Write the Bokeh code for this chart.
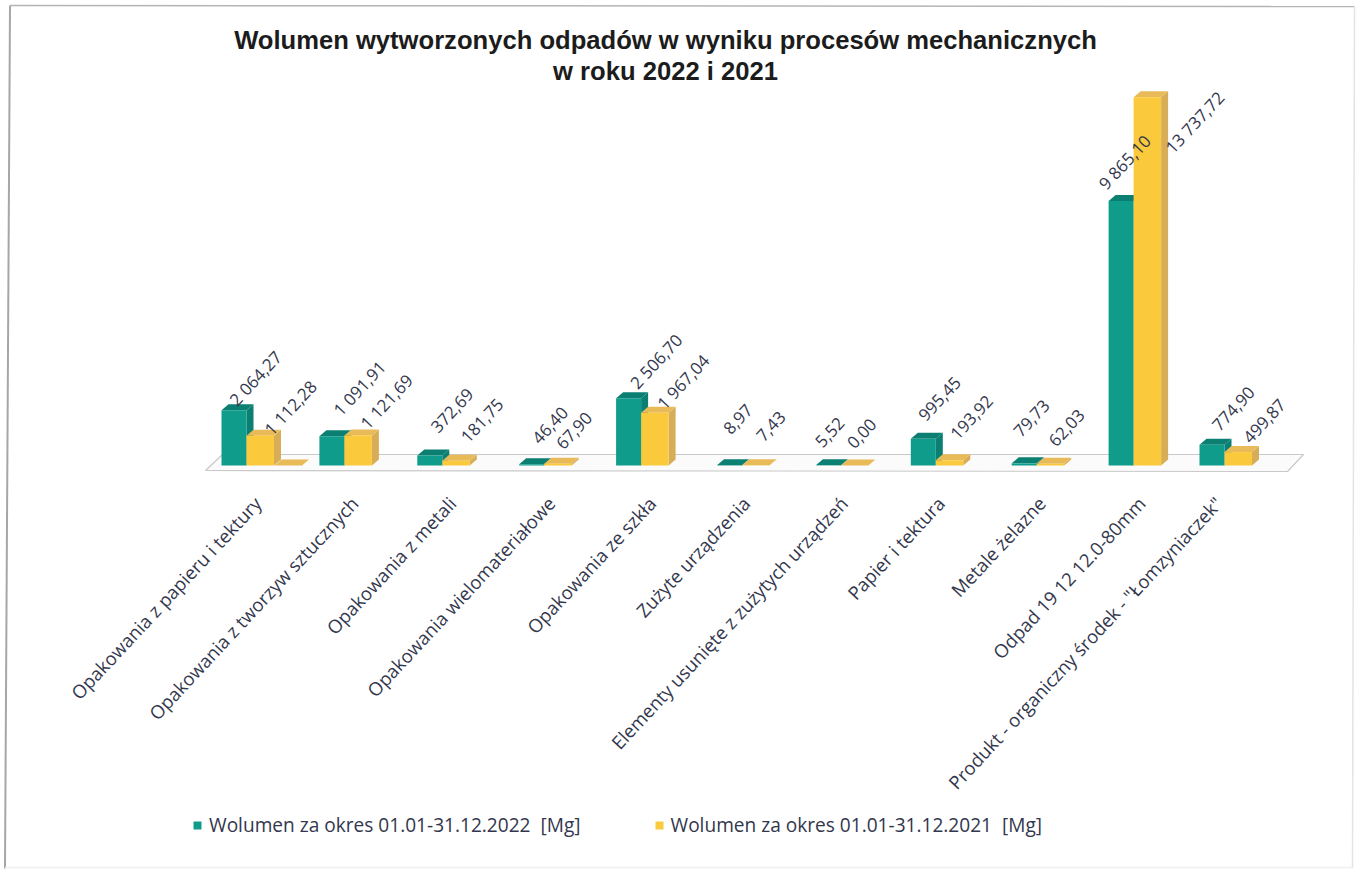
from bokeh.plotting import figure
from bokeh.core.properties import value
from bokeh.models import ColumnDataSource, Range1d, Legend, LegendItem
from bokeh.embed import file_html
from bokeh.resources import INLINE

title_line_1 = "Wolumen wytworzonych odpadów w wyniku procesów mechanicznych"
title_line_2 = "w roku 2022 i 2021"
categories = ["Opakowania z papieru i tektury", "Opakowania z tworzyw sztucznych", "Opakowania z metali",
              "Opakowania wielomateriałowe", "Opakowania ze szkła", "Zużyte urządzenia",
              "Elementy usunięte z zużytych urządzeń", "Papier i tektura", "Metale żelazne",
              "Odpad 19 12 12.0-80mm", "Produkt - organiczny środek - \"Łomzyniaczek\""]
values_2022 = [2064.27, 1091.91, 372.69, 46.40, 2506.70, 8.97, 5.52, 995.45, 79.73, 9865.10, 774.90]
values_2021 = [1112.28, 1121.69, 181.75, 67.90, 1967.04, 7.43, 0.00, 193.92, 62.03, 13737.72, 499.87]
labels_2022 = ["2 064,27", "1 091,91", "372,69", "46,40", "2 506,70", "8,97", "5,52", "995,45", "79,73", "9 865,10", "774,90"]
labels_2021 = ["1 112,28", "1 121,69", "181,75", "67,90", "1 967,04", "7,43", "0,00", "193,92", "62,03", "13 737,72", "499,87"]
extra_positions = [0]
extra_values = [0.0]
legend_2022 = "Wolumen za okres 01.01-31.12.2022  [Mg]"
legend_2021 = "Wolumen za okres 01.01-31.12.2021  [Mg]"

# hand placement of the data labels, in pixels from the bar's group centre / top
dx_2022 = [9, 15, 10, 10, 18, 2, -4, 8, 2, -3, 8]
up_2022 = [32, 48, 45, 39, 37, 46, 33, 40, 45, 39, 36]
dx_2021 = [44, 42, 40, 34, 45, 35, 28, 40, 37, 67, 39]
up_2021 = [28, 34, 40, 33, 31, 39, 32, 43, 36, -25, 31]
cat_dx = [11, 10, 10, 11, 14, 10, 10, 9, 12, 14, -7]
# the scanned groups are not evenly spaced: pixels each group sits off the even grid
group_shift = [0, 0, 0, 4, 3, 6, 7, 4, 7, 6, -1]

W, H = 1356, 870
ORIGIN_X, ORIGIN_Y = 246, 465
PX_X = 97.9
PX_Y = 0.0268
TEAL_W = 25 / PX_X
GOLD_W = 27.5 / PX_X
DEPTH_X = 7 / PX_X
DEPTH_Y = 6 / PX_Y

TEAL, TEAL_TOP, TEAL_SIDE = "#0f9c8b", "#0c7f73", "#0c7f73"
GOLD, GOLD_TOP, GOLD_SIDE = "#fbc93c", "#e9bb58", "#d8ad58"
TEXT = "#33374d"


def px(x):
    return (x - ORIGIN_X) / PX_X


def py(y):
    return (ORIGIN_Y - y) * 1.0 / PX_Y


p = figure(width=W, height=H, output_backend="svg", toolbar_location=None,
           x_range=Range1d(px(0), px(W)), y_range=Range1d(py(H), py(0)),
           x_axis_location=None, y_axis_location=None, min_border=0,
           background_fill_color="white", border_fill_color="white", outline_line_color=None)
p.grid.visible = False

# sheet frame
p.line([px(9.5), px(4.5)], [py(5), py(868)], line_color="#a6a6a6", line_width=2)
p.line([px(9.5), px(1354)], [py(5), py(6)], line_color="#b4b4b4", line_width=1.5)
p.line([px(1354), px(1352)], [py(6), py(868)], line_color="#e4e4e4", line_width=1.5)
p.line([px(4.5), px(1352)], [py(867), py(867)], line_color="#f0f0f0", line_width=1.5)

# title
p.text([px(665), px(665)], [py(39), py(70)], text=[title_line_1, title_line_2], text_align="center",
       text_baseline="middle", text_font=value("Liberation Sans"), text_font_size="25.6px",
       text_font_style="bold", text_color="#1c1c1c")

# floor
p.patch([px(205), px(222), px(1303), px(1287), px(205)],
        [py(470), py(454), py(454), py(471), py(470)],
        fill_color="#fbfbfb", line_color="#c9c9c9", line_width=1.2)


def bar(xs0, width, vals, front, top, side):
    xs1 = [x + width for x in xs0]
    sx = [[a, a + DEPTH_X, a + DEPTH_X, a] for a in xs1]
    sy = [[0, DEPTH_Y, v + DEPTH_Y, v] for v in vals]
    p.patches(sx, sy, fill_color=side, line_color=None)
    tx = [[a, a + DEPTH_X, b + DEPTH_X, b] for a, b in zip(xs0, xs1)]
    ty = [[v, v + DEPTH_Y, v + DEPTH_Y, v] for v in vals]
    p.patches(tx, ty, fill_color=top, line_color=None)
    return p.quad(left=xs0, right=xs1, bottom=[0] * len(vals), top=vals, fill_color=front, line_color=None)


pos = list(range(len(categories)))
bar_pos = [i + s / PX_X for i, s in zip(pos, group_shift)]
r_22 = bar([c - TEAL_W for c in bar_pos], TEAL_W, values_2022, TEAL, TEAL_TOP, TEAL_SIDE)
bar([e + 1.02 * GOLD_W for e in extra_positions], GOLD_W, extra_values, GOLD, GOLD_TOP, GOLD_SIDE)
r_21 = bar(bar_pos, GOLD_W, values_2021, GOLD, GOLD_TOP, GOLD_SIDE)

src = ColumnDataSource(dict(
    x=pos + pos,
    y=values_2022 + values_2021,
    text=labels_2022 + labels_2021,
    dx=dx_2022 + dx_2021,
    dy=[-u for u in up_2022 + up_2021],
))
p.text("x", "y", text="text", source=src, x_offset="dx", y_offset="dy", angle=47, angle_units="deg",
       text_align="center", text_baseline="middle", text_font_size="17px", text_font=value("Open Sans"),
       text_color=TEXT)

# category labels
cat_src = ColumnDataSource(dict(x=pos, y=[0] * len(pos), text=categories, dx=cat_dx))
p.text("x", "y", text="text", source=cat_src, x_offset="dx", y_offset=34, angle=47, angle_units="deg",
       text_align="right", text_baseline="middle", text_font_size="18.5px", text_font=value("Open Sans"),
       text_color=TEXT)

leg = Legend(items=[LegendItem(label=legend_2022, renderers=[r_22]), LegendItem(label=legend_2021, renderers=[r_21])],
             orientation="horizontal", location=(192, 32), border_line_color=None, background_fill_alpha=0,
             glyph_width=10, glyph_height=10, spacing=73, label_text_font="Open Sans",
             label_text_font_size="19.1px", label_text_color=TEXT, margin=0, padding=8, label_standoff=7)
p.add_layout(leg, "center")

open("out.html", "w").write(file_html(p, INLINE))
